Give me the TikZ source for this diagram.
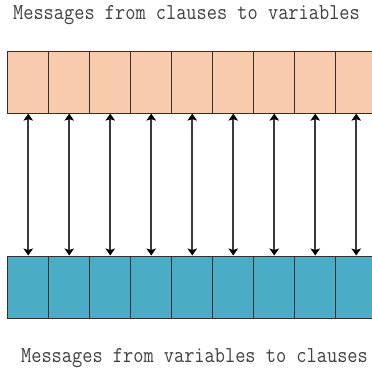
\documentclass[tikz,border=0pt]{standalone}
\usepackage{fontspec}
\usepackage{graphicx}
\usetikzlibrary{arrows.meta}
\definecolor{peach}{HTML}{F8CBAD}
\definecolor{aqua}{HTML}{4BACC6}
\definecolor{edge}{HTML}{303030}
\definecolor{arr}{HTML}{3A3A3A}
\definecolor{txt}{HTML}{404040}
\tikzset{
  cell/.style={draw=edge, line width=0.9pt, minimum width=41pt, minimum height=62pt, inner sep=0pt, anchor=north west},
  topcell/.style={cell, fill=peach},
  botcell/.style={cell, fill=aqua},
  msg/.style={arr, line width=1.6pt, {Stealth[length=7pt,width=9.5pt,inset=1.5pt,color=black]}-{Stealth[length=7pt,width=9.5pt,inset=1.5pt,color=black]}},
  label/.style={inner sep=0pt, anchor=base, text=txt, font=\ttfamily\fontsize{19.8pt}{21pt}\selectfont}
}
\begin{document}
\begin{tikzpicture}[x=1pt,y=-1pt]
\useasboundingbox (0,0) rectangle (372,369);
\clip (0,0) rectangle (372,369);
\foreach \i in {1,...,9} {
  \node[topcell] (t\i) at ({7.3+41*(\i-1)},50.7) {};
  \node[botcell] (b\i) at ({7.3+41*(\i-1)},255.5) {};
}
\foreach \i in {1,...,9} {
  \draw[msg] (t\i.south) -- (b\i.north);
}
\node[label] (top) at (186.5,20) {\scalebox{1}[1.15]{Messages from clauses to variables}};
\node[label] (bot) at (194.5,362.5) {\scalebox{1}[1.15]{Messages from variables to clauses}};
\end{tikzpicture}
\end{document}
